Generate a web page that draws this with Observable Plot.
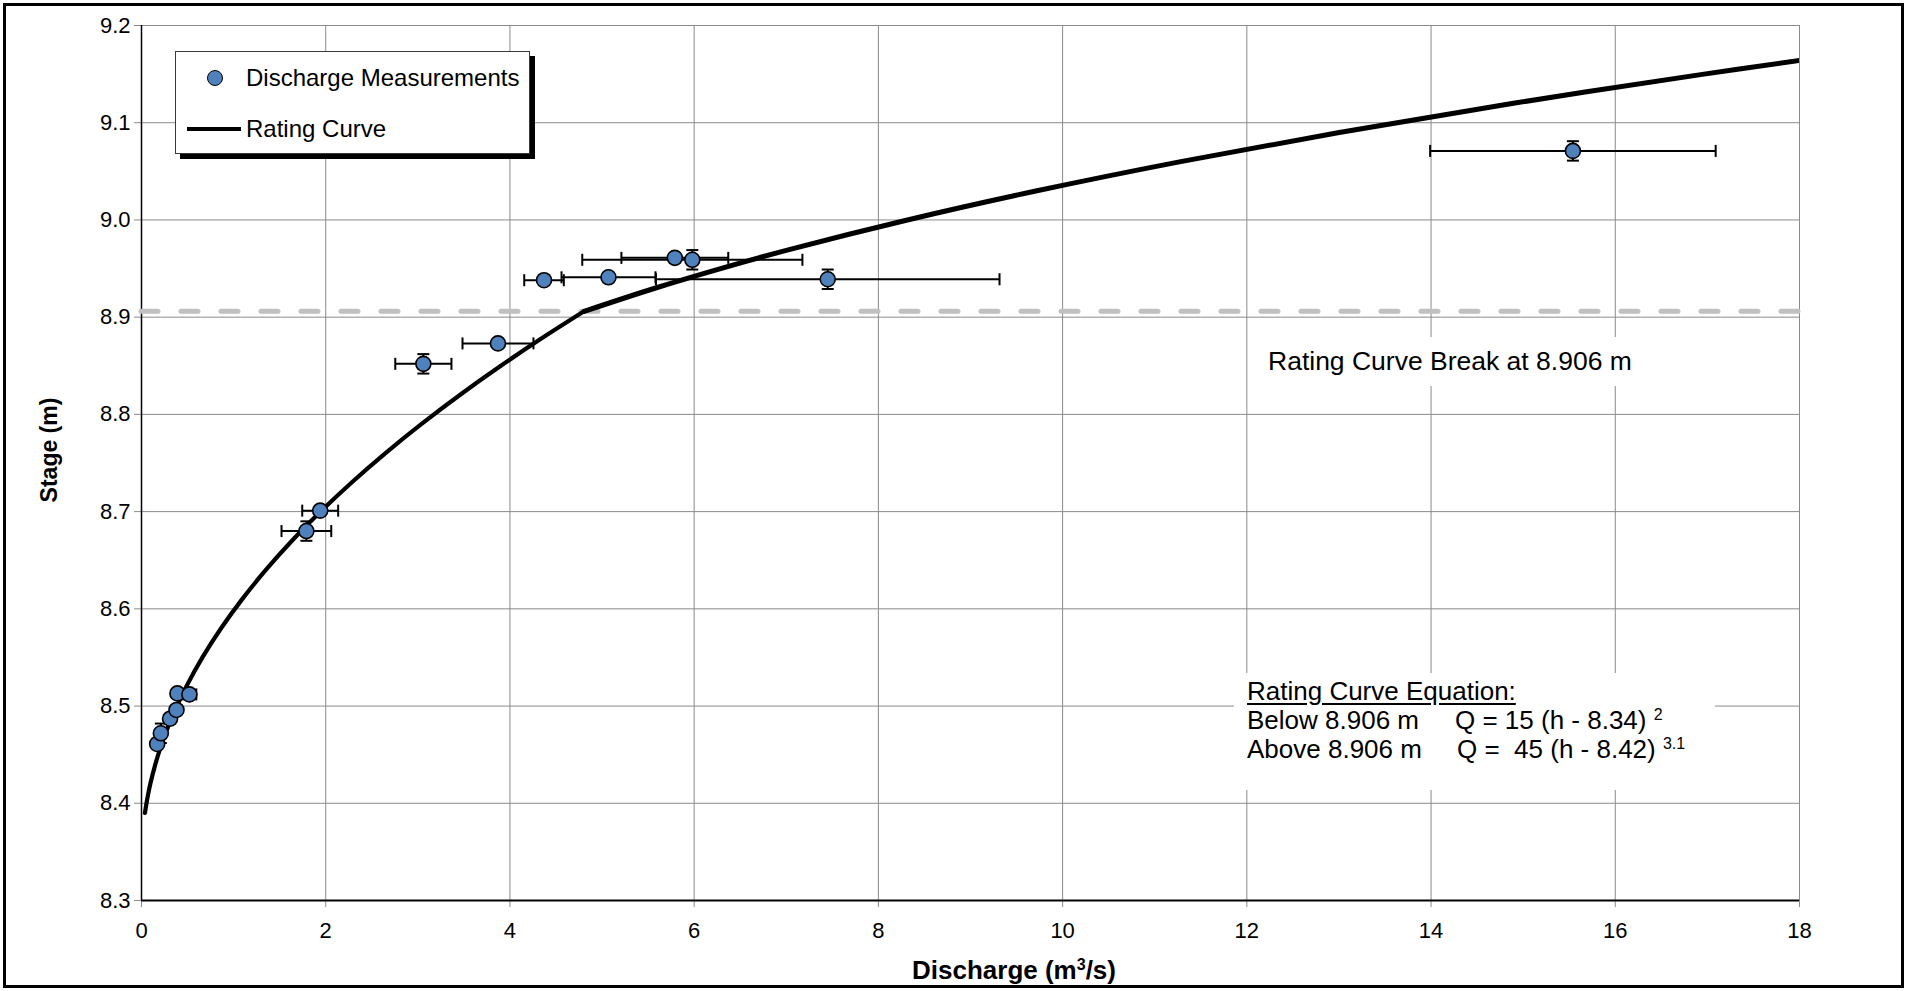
<!DOCTYPE html>
<html>
<head>
<meta charset="utf-8">
<script src="https://cdn.jsdelivr.net/npm/d3@7"></script>
<script src="https://cdn.jsdelivr.net/npm/@observablehq/plot@0.6"></script>
<style>
  html, body { margin: 0; padding: 0; background: #fff; overflow: hidden; }
  #wrap { position: relative; width: 1907px; height: 991px; font-family: "Liberation Sans", Arial, sans-serif; color: #000; }
  #wrap svg { position: absolute; left: 0; top: 0; }
  .frame { position: absolute; left: 3px; top: 3px; width: 1895px; height: 979px; border: 3px solid #000; pointer-events: none; }
  .legend { position: absolute; left: 175px; top: 51px; width: 353px; height: 101px; border: 1px solid #3a3a3a; background: #fff; box-shadow: 5px 5px 0 #000; }
  .legend .dot { position: absolute; left: 31px; top: 18px; width: 14px; height: 14px; border-radius: 50%; background: #4f81bd; border: 1.5px solid #000; }
  .legend .line { position: absolute; left: 11px; top: 75px; width: 54px; height: 4px; background: #000; }
  .legend .lab { position: absolute; left: 70px; font-size: 24px; line-height: 24px; white-space: nowrap; }
  .note { position: absolute; background: #fff; font-size: 26.5px; white-space: pre; }
  .eq { position: absolute; background: #fff; font-size: 26px; }
  .eq .row { position: absolute; left: 13px; height: 29px; line-height: 29px; white-space: pre; }
  .eq .c1 { display: inline-block; }
  .eq sup { font-size: 16px; vertical-align: 0; position: relative; top: -9px; }
  .xtitle { position: absolute; top: 955px; left: 0; width: 2028px; text-align: center; font-weight: bold; font-size: 26px; line-height: 30px; white-space: nowrap; }
  .xtitle sup { font-size: 16px; position: relative; top: -9px; vertical-align: 0; }
  .ytitle { position: absolute; left: 49px; top: 450px; transform: translate(-50%, -50%) rotate(-90deg); font-weight: bold; font-size: 23px; white-space: nowrap; }
</style>
</head>
<body>
<div id="wrap"></div>
<script>
const discharge    = [0.17, 0.21, 0.31, 0.38, 0.39, 0.52, 1.79, 1.94, 3.06, 3.87, 4.37, 5.07, 5.79, 5.98, 7.45, 15.54];
const stage        = [8.461, 8.472, 8.487, 8.496, 8.513, 8.512, 8.680, 8.701, 8.852, 8.873, 8.938, 8.941, 8.961, 8.959, 8.939, 9.071];
const dischargeErr = [0.02, 0.03, 0.03, 0.04, 0.04, 0.075, 0.27, 0.195, 0.305, 0.385, 0.215, 0.51, 0.58, 1.195, 1.865, 1.55];
const stageErr     = [0, 0.01, 0, 0, 0, 0, 0.01, 0, 0.01, 0, 0, 0, 0, 0.01, 0.01, 0.01];

// ---- Rating curve ----
const curveLowStage  = [8.39, 8.40, 8.41, 8.42, 8.44, 8.46, 8.48, 8.50, 8.52, 8.55, 8.58, 8.61, 8.64, 8.67, 8.70, 8.73, 8.76, 8.79, 8.82, 8.85, 8.88, 8.906];
const curveLowQ      = [0.0375, 0.054, 0.0735, 0.096, 0.15, 0.216, 0.294, 0.384, 0.486, 0.6615, 0.864, 1.0935, 1.35, 1.6335, 1.944, 2.2815, 2.646, 3.0375, 3.456, 3.9015, 4.374, 4.805];
const curveHighStage = [8.906, 8.93, 8.95, 8.97, 9.00, 9.03, 9.06, 9.09, 9.12, 9.15, 9.165];
const curveHighQ     = [4.806, 5.581, 6.287, 7.052, 8.315, 9.722, 11.282, 13.003, 14.894, 16.963, 18.067];

const breakStage = [8.906];

// ---- Axes ----
const xTicks = [0, 2, 4, 6, 8, 10, 12, 14, 16, 18];
const yTicks = [8.3, 8.4, 8.5, 8.6, 8.7, 8.8, 8.9, 9.0, 9.1, 9.2];

// ---- Texts ----
const legendLabels = ["Discharge Measurements", "Rating Curve"];
const breakLabel = "Rating Curve Break at 8.906 m";
const eqTitle = "Rating Curve Equation:";
const eqRows = [
  ["Below 8.906 m", "Q = 15 (h - 8.34) ", "2"],
  ["Above 8.906 m", "Q =  45 (h - 8.42) ", "3.1"]
];
const yTitle = "Stage (m)";

// ---- Build ----
const meas = discharge.map((q, i) => ({q, h: stage[i], eq: dischargeErr[i], eh: stageErr[i]}));
const measY = meas.filter(d => d.eh > 0);
const low = curveLowQ.map((q, i) => ({q, h: curveLowStage[i]}));
const high = curveHighQ.map((q, i) => ({q, h: curveHighStage[i]}));

const vCap = {draw(ctx, size) { const r = Math.sqrt(size / Math.PI); ctx.moveTo(0, -r); ctx.lineTo(0, r); }};
const hCap = {draw(ctx, size) { const r = Math.sqrt(size / Math.PI); ctx.moveTo(-r, 0); ctx.lineTo(r, 0); }};

const grid = "#8a8a8a";

const chart = Plot.plot({
  width: 1907,
  height: 991,
  marginLeft: 141,
  marginRight: 108,
  marginTop: 25,
  marginBottom: 91,
  style: {fontFamily: "'Liberation Sans', Arial, sans-serif", fontSize: "22px", background: "transparent", color: "#000"},
  x: {domain: [0, 18]},
  y: {domain: [8.3, 9.2]},
  marks: [
    Plot.gridX(xTicks, {stroke: grid, strokeOpacity: 1, strokeWidth: 1}),
    Plot.gridY(yTicks, {stroke: grid, strokeOpacity: 1, strokeWidth: 1}),
    Plot.axisX(xTicks, {tickSize: 7, tickPadding: 15, stroke: grid, fill: "#000", fontSize: 22, tickFormat: d => String(d), label: null}),
    Plot.axisY(yTicks, {tickSize: 7, tickPadding: 4, stroke: grid, fill: "#000", fontSize: 22, tickFormat: d3.format(".1f"), label: null}),
    Plot.ruleX([0], {stroke: "#000", strokeWidth: 1.5}),
    Plot.ruleY([8.3], {stroke: "#000", strokeWidth: 2}),
    Plot.ruleY(breakStage, {stroke: "#c0c0c0", strokeWidth: 5, strokeDasharray: "17 23", strokeLinecap: "round"}),
    Plot.line(low, {x: "q", y: "h", stroke: "#000", strokeWidth: 4.2, curve: "catmull-rom", clip: true}),
    Plot.line(high, {x: "q", y: "h", stroke: "#000", strokeWidth: 5, curve: "catmull-rom", clip: true}),
    Plot.link(meas, {x1: d => d.q - d.eq, x2: d => d.q + d.eq, y1: "h", y2: "h", stroke: "#000", strokeWidth: 2}),
    Plot.dot(meas, {x: d => d.q - d.eq, y: "h", symbol: vCap, r: 6, fill: "none", stroke: "#000", strokeWidth: 2}),
    Plot.dot(meas, {x: d => d.q + d.eq, y: "h", symbol: vCap, r: 6, fill: "none", stroke: "#000", strokeWidth: 2}),
    Plot.link(measY, {x1: "q", x2: "q", y1: d => d.h - d.eh, y2: d => d.h + d.eh, stroke: "#000", strokeWidth: 2}),
    Plot.dot(measY, {x: "q", y: d => d.h - d.eh, symbol: hCap, r: 6, fill: "none", stroke: "#000", strokeWidth: 2}),
    Plot.dot(measY, {x: "q", y: d => d.h + d.eh, symbol: hCap, r: 6, fill: "none", stroke: "#000", strokeWidth: 2}),
    Plot.dot(meas, {x: "q", y: "h", r: 7.5, symbol: "circle", fill: "#4f81bd", stroke: "#000", strokeWidth: 1.6})
  ]
});

const wrap = document.getElementById("wrap");
wrap.appendChild(chart);

function el(tag, cls, parent, text) {
  const e = document.createElement(tag);
  if (cls) e.className = cls;
  if (text != null) e.textContent = text;
  (parent || wrap).appendChild(e);
  return e;
}

// Break annotation
const note = el("div", "note", wrap, breakLabel);
Object.assign(note.style, {left: "1256px", top: "337px", width: "400px", height: "49px", lineHeight: "49px", paddingLeft: "12px", boxSizing: "border-box"});

// Equation box
const eq = el("div", "eq");
Object.assign(eq.style, {left: "1234px", top: "673px", width: "481px", height: "117px"});
const r0 = el("div", "row", eq);
r0.style.top = "4px";
const u = el("span", null, r0, eqTitle);
u.style.textDecoration = "underline";
u.style.textUnderlineOffset = "3px";
eqRows.forEach((row, i) => {
  const r = el("div", "row", eq);
  r.style.top = (33 + i * 29) + "px";
  const c1 = el("span", "c1", r, row[0]);
  c1.style.width = (i === 0 ? 208 : 210) + "px";
  el("span", null, r, row[1]);
  el("sup", null, r, row[2]);
});

// Legend
const lg = el("div", "legend");
el("div", "dot", lg);
el("div", "line", lg);
const l1 = el("div", "lab", lg, legendLabels[0]); l1.style.top = "14px";
const l2 = el("div", "lab", lg, legendLabels[1]); l2.style.top = "65px";

// Axis titles
const xt = el("div", "xtitle");
xt.append("Discharge (m");
el("sup", null, xt, "3");
xt.append("/s)");
el("div", "ytitle", wrap, yTitle);

// Outer frame
el("div", "frame");
</script>
</body>
</html>
